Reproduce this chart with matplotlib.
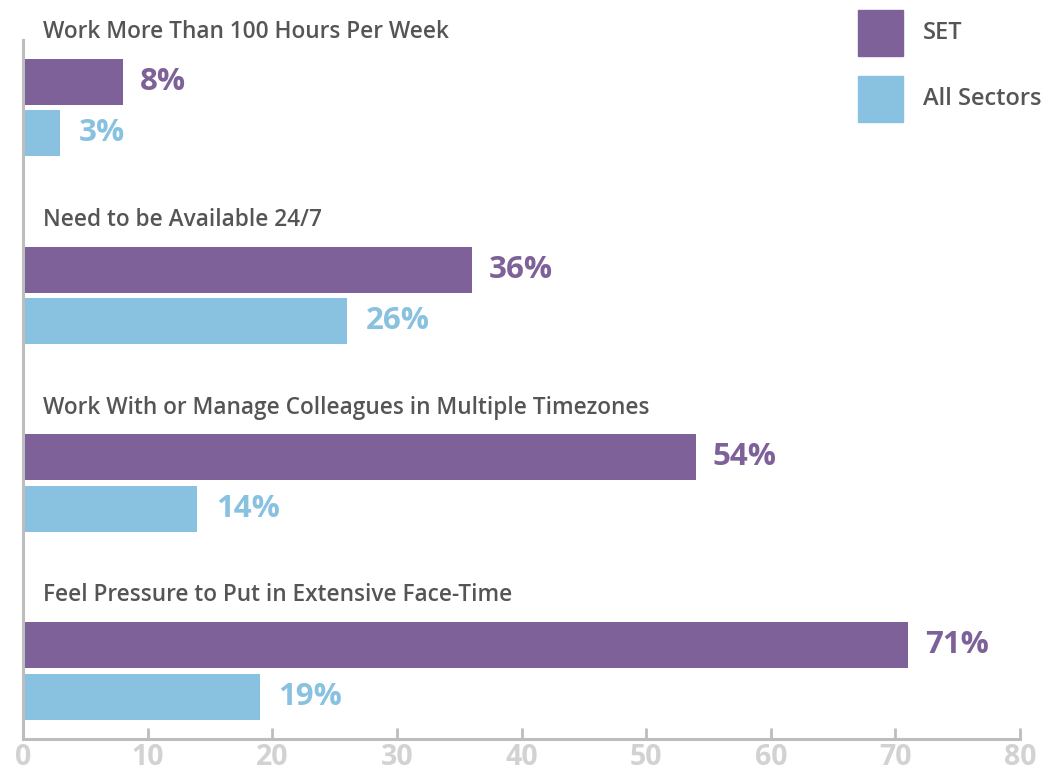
import matplotlib
matplotlib.use("Agg")
import matplotlib.pyplot as plt
from matplotlib.patches import Rectangle

categories = [
    "Work More Than 100 Hours Per Week",
    "Need to be Available 24/7",
    "Work With or Manage Colleagues in Multiple Timezones",
    "Feel Pressure to Put in Extensive Face-Time",
]
set_values = [8, 36, 54, 71]
all_values = [3, 26, 14, 19]
series_names = ["SET", "All Sectors"]
xticks = [0, 10, 20, 30, 40, 50, 60, 70, 80]

purple = "#7d6198"
blue = "#88c2e0"
grey_text = "#555555"
axis_grey = "#bdbdbd"
tick_grey = "#d2d2d2"

W, H = 1053, 776
fig = plt.figure(figsize=(W / 100, H / 100), dpi=100)
ax = fig.add_axes([23 / W, 1 - 739 / H, (1020 - 23) / W, (739 - 40) / H])

bar_h = 0.245
offset = 0.274
for i, (cat, s, a) in enumerate(zip(categories, set_values, all_values)):
    ax.barh(i, s, height=bar_h, color=purple)
    ax.barh(i + offset, a, height=bar_h, color=blue)
    ax.text(1.6, i - 0.266, cat, ha="left", va="center", fontsize=16.3,
            fontfamily="Open Sans", fontweight="semibold", color=grey_text,
            clip_on=False)
    ax.text(s + 1.35, i, f"{s}%", ha="left", va="center", fontsize=22.5,
            fontfamily="Open Sans", fontweight="bold", color=purple)
    ax.text(a + 1.5, i + offset, f"{a}%", ha="left", va="center", fontsize=22.5,
            fontfamily="Open Sans", fontweight="bold", color=blue)

ax.set_xlim(0, 80)
ax.set_ylim(3.50, -0.224)
ax.set_yticks([])
ax.set_xticks(xticks)
ax.set_xticklabels([str(t) for t in xticks], fontsize=20.5,
                   fontfamily="Open Sans", fontweight="bold", color=tick_grey)
ax.tick_params(axis="x", direction="in", length=8, width=2, color=axis_grey, pad=3)
for side in ["top", "right"]:
    ax.spines[side].set_visible(False)
for side in ["left", "bottom"]:
    ax.spines[side].set_color(axis_grey)
    ax.spines[side].set_linewidth(2.2)

# legend
for j, (name, col) in enumerate(zip(series_names, [purple, blue])):
    y0 = 10 + j * 66
    fig.patches.append(Rectangle((858 / W, 1 - (y0 + 46) / H), 45 / W, 46 / H,
                                 transform=fig.transFigure, color=col))
    fig.text(923 / W, 1 - (y0 + 23) / H, name, ha="left", va="center",
             fontsize=17, fontfamily="Open Sans", fontweight="semibold",
             color=grey_text)

fig.savefig("out.png", dpi=100)
